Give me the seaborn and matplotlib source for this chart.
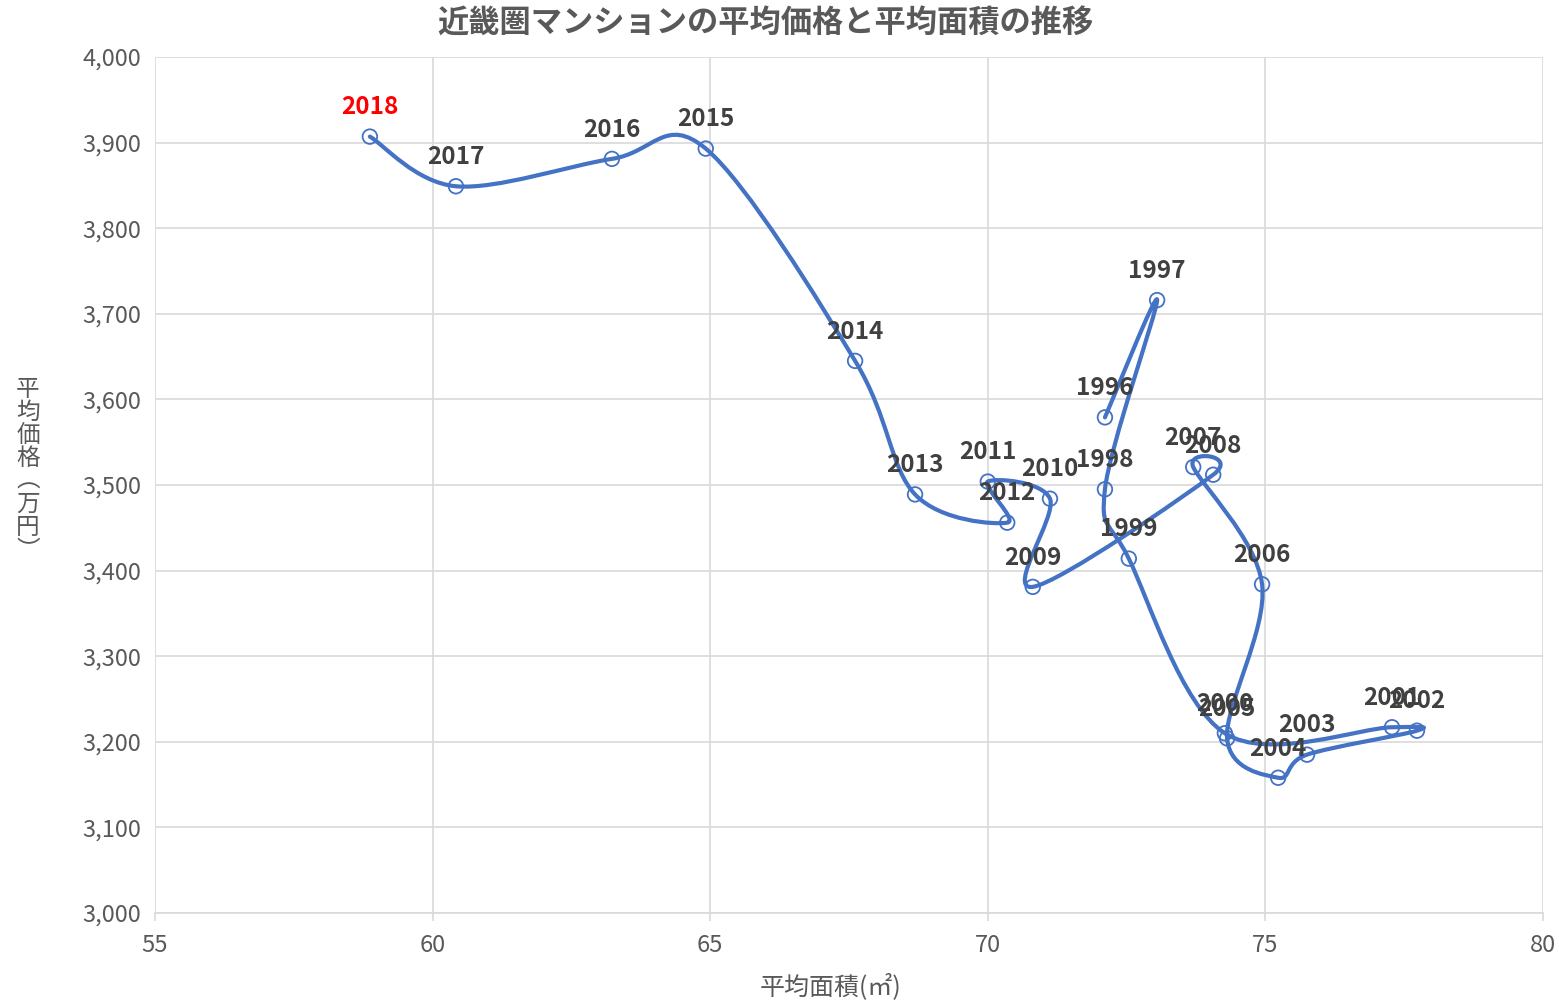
import numpy as np
import pandas as pd
import matplotlib
matplotlib.use("Agg")
import matplotlib.pyplot as plt
from matplotlib.path import Path
from matplotlib.patches import PathPatch
from matplotlib.ticker import FuncFormatter, MultipleLocator
import seaborn as sns

years = list(range(1996, 2019))
area = [72.11, 73.05, 72.11, 72.54, 74.27, 77.28, 77.73, 75.75, 75.23, 74.31,
        74.94, 73.70, 74.06, 70.81, 71.12, 70.00, 70.35, 68.69, 67.61, 64.92,
        63.23, 60.42, 58.87]
price = [3579, 3716, 3495, 3414, 3210, 3217, 3213, 3185, 3158, 3204,
         3384, 3521, 3512, 3381, 3484, 3504, 3456, 3489, 3645, 3893,
         3881, 3849, 3907]

df = pd.DataFrame({"year": years, "area": area, "price": price})

sns.set_theme(style="whitegrid")
plt.rcParams["font.family"] = ["Noto Sans CJK JP", "DejaVu Sans"]

blue = "#4472C4"
gray = "#595959"

fig = plt.figure(figsize=(15.59, 10.02), dpi=100)
ax = fig.add_axes([155 / 1559, 1 - 913 / 1002, 1388 / 1559, 856 / 1002])

# smoothed line like Excel (Catmull-Rom as cubic Bezier)
pts = df[["area", "price"]].to_numpy()
n = len(pts)
verts = [pts[0]]
codes = [Path.MOVETO]
for i in range(n - 1):
    p0 = pts[i - 1] if i > 0 else pts[i]
    p1 = pts[i]
    p2 = pts[i + 1]
    p3 = pts[i + 2] if i + 2 < n else pts[i + 1]
    c1 = p1 + (p2 - p0) / 6
    c2 = p2 - (p3 - p1) / 6
    verts += [c1, c2, p2]
    codes += [Path.CURVE4] * 3
ax.add_patch(PathPatch(Path(verts, codes), fill=False, edgecolor=blue,
                       lw=3.0, capstyle="round", joinstyle="round", zorder=2))

sns.scatterplot(data=df, x="area", y="price", ax=ax, marker="o", s=110,
                facecolor="none", edgecolor=blue, linewidth=1.3, zorder=3,
                legend=False)

for yr, xv, yv in zip(years, area, price):
    ax.annotate(str(yr), (xv, yv), xytext=(0, 16), textcoords="offset points",
                ha="center", va="baseline", fontsize=17.5, fontweight="bold",
                color="red" if yr == 2018 else "#404040", zorder=4)

ax.set_xlim(55, 80)
ax.set_ylim(3000, 4000)
ax.xaxis.set_major_locator(MultipleLocator(5))
ax.yaxis.set_major_locator(MultipleLocator(100))
ax.yaxis.set_major_formatter(FuncFormatter(lambda v, p: f"{int(v):,}"))
ax.grid(True, color="#d9d9d9", lw=1.2)
for s in ["top", "right", "left"]:
    ax.spines[s].set_visible(False)
ax.spines["bottom"].set_color("#d9d9d9")
ax.spines["bottom"].set_linewidth(1.2)
ax.tick_params(axis="x", length=6, width=1.2, color="#d9d9d9", pad=9,
               labelsize=17, labelcolor=gray, bottom=True)
ax.tick_params(axis="y", length=0, pad=10, labelsize=17, labelcolor=gray)
ax.set_xlabel("")
ax.set_ylabel("")

fig.text(765 / 1559, 1 - 24 / 1002, "近畿圏マンションの平均価格と平均面積の推移",
         ha="center", va="center", fontsize=22.5, fontweight="bold", color=gray)
fig.text(831 / 1559, 1 - 987 / 1002, "平均面積(㎡)", ha="center", va="center",
         fontsize=18, color=gray)
fig.text(28 / 1559, 1 - 470 / 1002, "\n".join("平均価格︵万円︶"), ha="center",
         va="center", fontsize=17, color=gray, linespacing=1.0)

fig.savefig("out.png", dpi=100, facecolor="white")
